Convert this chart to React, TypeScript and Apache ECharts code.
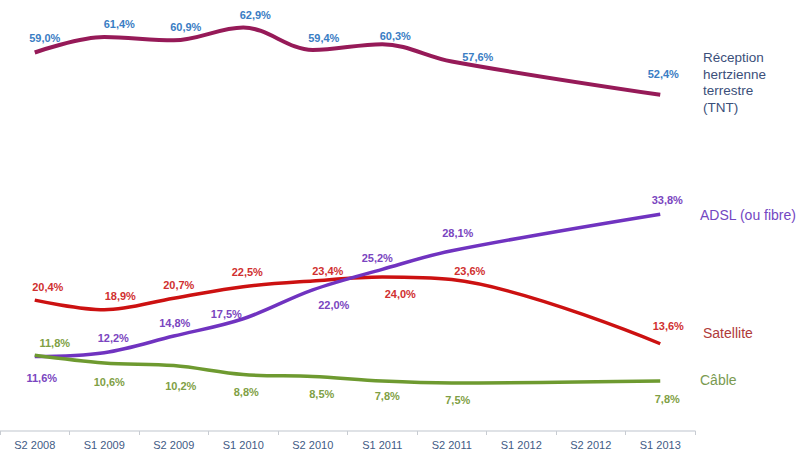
import React, { useEffect, useRef } from "react";
import * as echarts from "echarts";

const categories = ["S2 2008", "S1 2009", "S2 2009", "S1 2010", "S2 2010", "S1 2011", "S2 2011", "S1 2012", "S2 2012", "S1 2013"];
const tnt = [59.0, 61.4, 60.9, 62.9, 59.4, 60.3, 57.6, null, null, 52.4];
const adsl = [11.6, 12.2, 14.8, 17.5, 22.0, 25.2, 28.1, null, null, 33.8];
const satellite = [20.4, 18.9, 20.7, 22.5, 23.4, 24.0, 23.6, null, null, 13.6];
const cable = [11.8, 10.6, 10.2, 8.8, 8.5, 7.8, 7.5, null, null, 7.8];

// label placement (layout only)
const tntOffsets = [[10, -14], [15, -13], [12, -13], [12, -12], [11, -12], [13, -8], [26, -4], [0, 0], [0, 0], [3, -21]];
const satOffsets = [[13, -13], [16, -14], [5, -13], [4, -15], [15, -10], [18, 17], [18, -9], [0, 0], [0, 0], [8, -18]];
const adslOffsets = [[7, 21], [9, -15], [1, -13], [-17, -5], [21, 15], [-5, -11], [6, -18], [0, 0], [0, 0], [7, -14]];
const cableOffsets = [[20, -12], [5, 19], [7, 20], [3, 17], [9, 18], [5, 15], [6, 17], [0, 0], [0, 0], [7, 18]];

const FONT = "Liberation Sans, Arial, sans-serif";
const fmt = (v: number) => v.toFixed(1).replace(".", ",") + "%";

function buildSeries(name: string, values: (number | null)[], offsets: number[][], lineColor: string, labelColor: string, width: number) {
  return {
    name,
    type: "line",
    smooth: 0.35,
    connectNulls: true,
    symbol: "circle",
    symbolSize: 0,
    showSymbol: true,
    lineStyle: { color: lineColor, width },
    itemStyle: { color: lineColor },
    data: values.map((v, i) => ({
      value: v,
      label: { offset: offsets[i] },
    })),
    label: {
      show: true,
      position: "inside",
      color: labelColor,
      fontSize: 11,
      fontWeight: "bold",
      fontFamily: FONT,
      formatter: (p: any) => (p.value == null ? "" : fmt(p.value)),
    },
    z: 2,
  };
}

export default function App() {
  const ref = useRef<HTMLDivElement>(null);
  useEffect(() => {
    if (!ref.current) return;
    const chart = echarts.init(ref.current, undefined, { renderer: "svg" });
    chart.setOption({
      animation: false,
      backgroundColor: "#ffffff",
      grid: { left: -5, right: 105, top: 14, bottom: 18, containLabel: false },
      xAxis: {
        type: "category",
        data: categories,
        boundaryGap: true,
        axisLine: { lineStyle: { color: "#d4d8de", width: 1.5 } },
        axisTick: { show: true, length: 4, lineStyle: { color: "#c8ccd2" } },
        axisLabel: { color: "#3f5b85", fontSize: 11, fontFamily: FONT, margin: 8 },
        splitLine: { show: false },
      },
      yAxis: {
        type: "value",
        min: 0,
        max: 65,
        show: false,
        splitLine: { show: false },
      },
      series: [
        buildSeries("Réception hertzienne terrestre (TNT)", tnt, tntOffsets, "#961a58", "#3a7dc4", 4),
        buildSeries("Satellite", satellite, satOffsets, "#cc1111", "#d03030", 3.5),
        buildSeries("ADSL (ou fibre)", adsl, adslOffsets, "#7033c0", "#7a45c0", 3.5),
        buildSeries("Câble", cable, cableOffsets, "#6e9a30", "#7f9f45", 3.5),
      ],
      graphic: [
        {
          type: "text",
          left: 703,
          top: 49,
          style: {
            text: "Réception\nhertzienne\nterrestre\n(TNT)",
            fill: "#3b4f7a",
            font: `13.5px ${FONT}`,
            lineHeight: 16.7,
          },
        },
        { type: "text", left: 700, top: 208, style: { text: "ADSL (ou fibre)", fill: "#7347c2", font: `14px ${FONT}` } },
        { type: "text", left: 703, top: 326, style: { text: "Satellite", fill: "#b03a3a", font: `14px ${FONT}` } },
        { type: "text", left: 700, top: 373, style: { text: "Câble", fill: "#7a9a50", font: `14px ${FONT}` } },
      ],
    });
    return () => chart.dispose();
  }, []);
  return <div ref={ref} style={{ width: 800, height: 450, position: "absolute", left: 0, top: 0 }} />;
}
